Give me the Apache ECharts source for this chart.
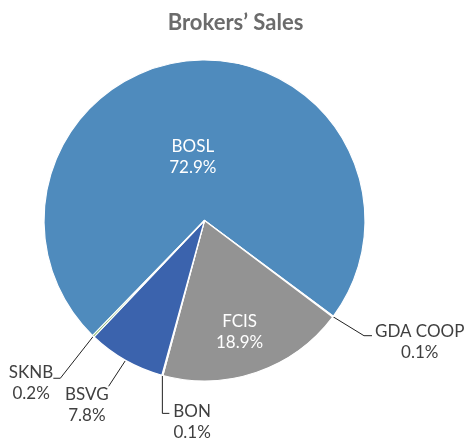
<!DOCTYPE html>
<html>
<head>
<meta charset="utf-8">
<script src="https://cdn.jsdelivr.net/npm/echarts@6/dist/echarts.min.js"></script>
<style>
  html, body { margin: 0; padding: 0; background: #fff; }
  #chart { width: 471px; height: 438px; }
</style>
</head>
<body>
<div id="chart"></div>
<script>
// data, clockwise from the BOSL slice
var categories = ['BOSL', 'GDA COOP', 'FCIS', 'BON', 'BSVG', 'SKNB'];
var shares = [72.9, 0.1, 18.9, 0.1, 7.8, 0.2];

var colors = ['#4f8bbd', '#e07b39', '#939393', '#f0b323', '#3b63ad', '#6aa84f'];

// label tweaks per slice (index as above)
// inside: shift of the label centre; outside: leader elbow (ex, ey), horizontal tail hx, text gap and first-line shift
var labelTweak = {
  0: { inside: true, dx: -5, dy: 19 },
  1: { ex: 31, ey: 19, hx: 8, gap: 3, ty: -4 },
  2: { inside: true, dx: 8, dy: 33 },
  3: { ex: 0, ey: 38, hx: 7, gap: 4, ty: -2 },
  4: { ex: -17, ey: 26, hx: 0, gap: 0, ty: 8 },
  5: { ex: -33, ey: 42, hx: -7, gap: 0, ty: -6 }
};

var LINE_H = 21;

var pieData = categories.map(function (name, i) {
  var t = labelTweak[i];
  return {
    name: name,
    value: shares[i],
    itemStyle: { color: colors[i] },
    label: t.inside
      ? { position: 'inside', color: '#ffffff' }
      : { position: 'outside', color: '#404040' },
    labelLine: { show: !t.inside }
  };
});

var chart = echarts.init(document.getElementById('chart'), null, { renderer: 'canvas' });

chart.setOption({
  backgroundColor: '#ffffff',
  animation: false,
  title: {
    text: 'Brokers\u2019 Sales',
    left: 'center',
    top: 7,
    padding: [5, 0, 5, 17],
    textStyle: { fontFamily: 'Lato', fontWeight: 'bold', fontSize: 22, color: '#6b6b6b' }
  },
  series: [{
    type: 'pie',
    center: [204.5, 220.5],
    radius: 160.5,
    startAngle: 225.8,
    clockwise: true,
    avoidLabelOverlap: false,
    itemStyle: { borderColor: '#ffffff', borderWidth: 1.2 },
    label: {
      formatter: '{b}\n{c}%',
      fontFamily: 'Lato',
      fontSize: 17,
      lineHeight: LINE_H,
      align: 'center'
    },
    labelLine: {
      length: 20,
      length2: 8,
      lineStyle: { color: '#222222', width: 1 }
    },
    labelLayout: function (p) {
      var t = labelTweak[p.dataIndex];
      var r = p.labelRect;
      if (t.inside) {
        return {
          x: r.x + r.width / 2 + t.dx,
          y: r.y + r.height / 2 + t.dy,
          align: 'center',
          verticalAlign: 'middle'
        };
      }
      var p0 = p.labelLinePoints[0];
      var p1 = [p0[0] + t.ex, p0[1] + t.ey];
      var p2 = [p1[0] + t.hx, p1[1]];
      var side = (t.hx > 0 || (t.hx === 0 && t.ex > 0)) ? 1 : -1;
      return {
        x: p2[0] + side * (t.gap + r.width / 2),
        y: p2[1] + t.ty - LINE_H / 2,
        align: 'center',
        verticalAlign: 'top',
        labelLinePoints: [p0, p1, p2]
      };
    },
    data: pieData
  }]
});
</script>
</body>
</html>
